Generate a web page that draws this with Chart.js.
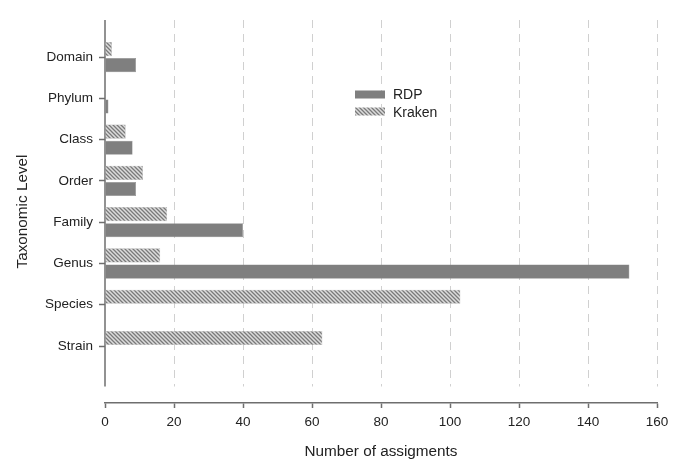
<!DOCTYPE html>
<html>
<head>
<meta charset="utf-8">
<script src="https://cdn.jsdelivr.net/npm/chart.js@4"></script>
<style>
    html, body { margin: 0; padding: 0; background: #fff; }
    #wrap { width: 681px; height: 461px; }
</style>
</head>
<body>
<div id="wrap"><canvas id="taxChart" width="681" height="461"></canvas></div>
<script>
// Data
const levels = ['Domain', 'Phylum', 'Class', 'Order', 'Family', 'Genus', 'Species', 'Strain'];
const rdpCounts = [9, 1, 8, 9, 40, 152, 0, 0];
const krakenCounts = [2, 0, 6, 11, 18, 16, 103, 63];
const xTicks = [0, 20, 40, 60, 80, 100, 120, 140, 160];

const FONT = '"Liberation Sans", Arial, sans-serif';

// Diagonal hatch used for the Kraken bars
function makeHatch() {
    const c = document.createElement('canvas');
    c.width = 4;
    c.height = 4;
    const g = c.getContext('2d');
    g.fillStyle = '#dcdcdc';
    g.fillRect(0, 0, 4, 4);
    g.strokeStyle = '#7a7a7a';
    g.lineWidth = 1.3;
    g.beginPath();
    g.moveTo(-1, -1); g.lineTo(5, 5);
    g.moveTo(-1, 3); g.lineTo(1, 5);
    g.moveTo(3, -1); g.lineTo(5, 1);
    g.stroke();
    return g.createPattern(c, 'repeat');
}
const hatch = makeHatch();

// y values run from yMin (top) to yMax (bottom of chart area)
const yMin = -0.9;
const yMax = 8.38;
const yAxisEnd = 7.98;

// Axis lines, dashed grid and legend
const decor = {
    id: 'decor',
    beforeDatasetsDraw(chart) {
        const ctx = chart.ctx;
        const x = chart.scales.x;
        const y = chart.scales.y;
        const top = chart.chartArea.top;
        const bottom = y.getPixelForValue(yAxisEnd);
        ctx.save();
        ctx.strokeStyle = '#d0d0d0';
        ctx.lineWidth = 1;
        ctx.setLineDash([8, 6]);
        xTicks.forEach(v => {
            if (v === 0) return;
            const px = Math.round(x.getPixelForValue(v)) + 0.5;
            ctx.beginPath();
            ctx.moveTo(px, top);
            ctx.lineTo(px, bottom);
            ctx.stroke();
        });
        ctx.setLineDash([]);
        ctx.strokeStyle = '#6e6e6e';
        ctx.lineWidth = 1.5;
        const ax = x.getPixelForValue(0);
        ctx.beginPath();
        ctx.moveTo(ax, top);
        ctx.lineTo(ax, bottom);
        ctx.stroke();
        ctx.restore();
    },
    afterDraw(chart) {
        const ctx = chart.ctx;
        const items = [
            { label: 'RDP', fill: '#7f7f7f' },
            { label: 'Kraken', fill: hatch }
        ];
        ctx.save();
        ctx.font = '14px ' + FONT;
        ctx.textBaseline = 'middle';
        items.forEach((it, i) => {
            const top = 90.5 + i * 17;
            ctx.fillStyle = it.fill;
            ctx.fillRect(355, top, 30, 8);
            ctx.fillStyle = '#222';
            ctx.fillText(it.label, 393, top + 4.5 + i);
        });
        ctx.restore();
    }
};

const ctx = document.getElementById('taxChart').getContext('2d');
new Chart(ctx, {
    type: 'bar',
    data: {
        datasets: [{
            label: 'Kraken',
            data: krakenCounts.map((v, i) => ({ x: v, y: i })),
            backgroundColor: hatch,
            borderColor: '#a8a8a8',
            borderWidth: 0.5,
            categoryPercentage: 0.78,
            barPercentage: 0.88
        }, {
            label: 'RDP',
            data: rdpCounts.map((v, i) => ({ x: v, y: i })),
            backgroundColor: '#7f7f7f',
            borderColor: '#8a8a8a',
            borderWidth: 0.5,
            categoryPercentage: 0.78,
            barPercentage: 0.88
        }]
    },
    options: {
        indexAxis: 'y',
        responsive: false,
        animation: false,
        layout: { padding: { top: 20, right: 24, left: 0, bottom: 0 } },
        plugins: {
            legend: { display: false },
            tooltip: { enabled: false }
        },
        scales: {
            x: {
                type: 'linear',
                min: 0,
                max: 160,
                afterBuildTicks: scale => {
                    scale.ticks = xTicks.map(v => ({ value: v }));
                },
                afterFit: scale => { scale.height = 58; },
                border: { display: true, color: '#6e6e6e', width: 1.5 },
                grid: {
                    drawOnChartArea: false,
                    drawTicks: true,
                    tickLength: 5,
                    tickColor: '#6e6e6e',
                    tickWidth: 1.5
                },
                ticks: {
                    color: '#222',
                    font: { family: FONT, size: 13.5 },
                    padding: 6,
                    maxRotation: 0
                },
                title: {
                    display: true,
                    text: 'Number of assigments',
                    color: '#222',
                    font: { family: FONT, size: 15.3 },
                    padding: { top: 6, bottom: 0 }
                }
            },
            y: {
                type: 'linear',
                reverse: true,
                offset: false,
                min: yMin,
                max: yMax,
                afterBuildTicks: scale => {
                    scale.ticks = levels.map((l, i) => ({ value: i }));
                },
                afterFit: scale => { scale.width = 105; },
                border: { display: false },
                grid: {
                    offset: false,
                    drawOnChartArea: false,
                    drawTicks: true,
                    tickLength: 6,
                    tickColor: '#6e6e6e',
                    tickWidth: 1.5
                },
                ticks: {
                    color: '#222',
                    font: { family: FONT, size: 13.5 },
                    padding: 6,
                    callback: v => levels[v]
                },
                title: {
                    display: true,
                    text: 'Taxonomic Level',
                    color: '#222',
                    font: { family: FONT, size: 15.3 },
                    padding: { top: 14, bottom: 6 }
                }
            }
        }
    },
    plugins: [decor]
});
</script>
</body>
</html>
